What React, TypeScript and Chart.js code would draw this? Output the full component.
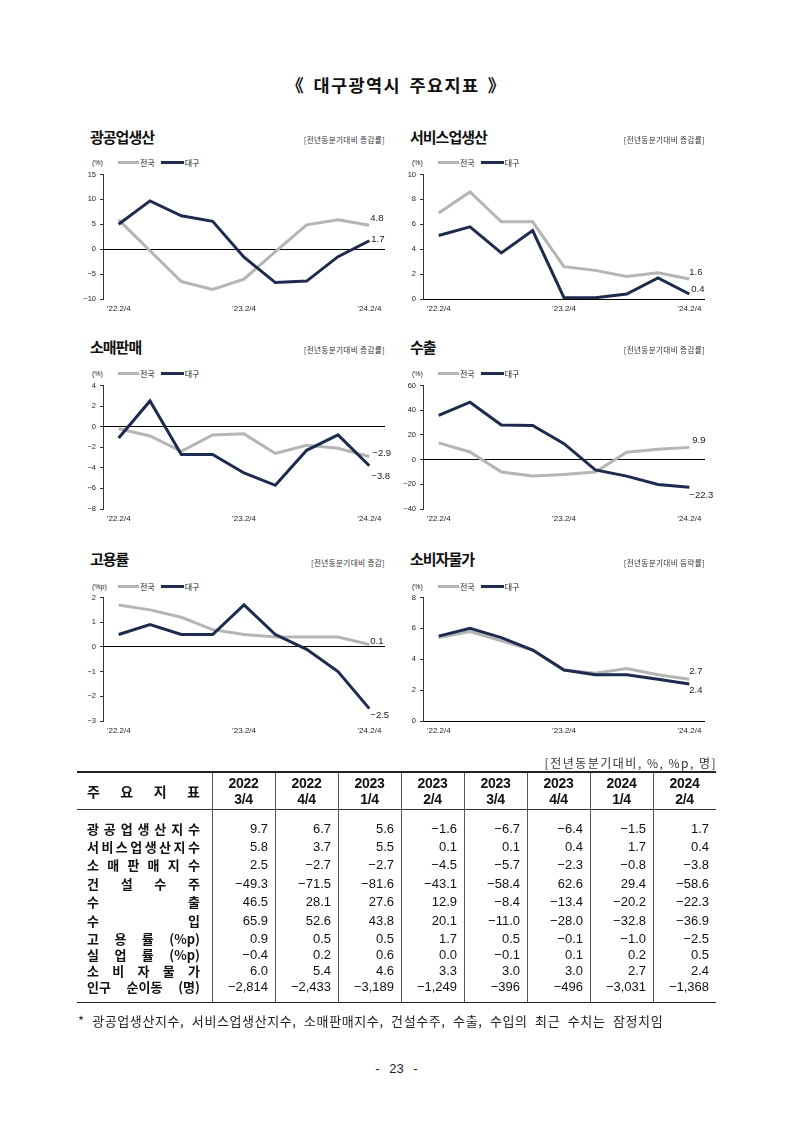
import React, { useEffect, useRef } from "react";
import { Chart, registerables } from "chart.js";
Chart.register(...registerables);

// ---------- chart data ----------
const quarters = ["’22.2/4", "’22.3/4", "’22.4/4", "’23.1/4", "’23.2/4", "’23.3/4", "’23.4/4", "’24.1/4", "’24.2/4"];
const shownTickIdx = [0, 4, 8];
const seriesNames = ["전국", "대구"];

const miningNation = [5.9, -0.3, -6.5, -8.1, -6.0, -0.5, 4.9, 5.9, 4.8];
const miningDaegu = [5.0, 9.7, 6.7, 5.6, -1.6, -6.7, -6.4, -1.5, 1.7];
const serviceNation = [6.9, 8.6, 6.2, 6.2, 2.6, 2.3, 1.8, 2.1, 1.6];
const serviceDaegu = [5.1, 5.8, 3.7, 5.5, 0.1, 0.1, 0.4, 1.7, 0.4];
const retailNation = [-0.2, -0.9, -2.4, -0.8, -0.7, -2.6, -1.8, -2.1, -2.9];
const retailDaegu = [-1.1, 2.5, -2.7, -2.7, -4.5, -5.7, -2.3, -0.8, -3.8];
const exportNation = [13.5, 6.2, -10.0, -13.2, -12.0, -10.0, 6.0, 8.3, 9.9];
const exportDaegu = [35.8, 46.5, 28.1, 27.6, 12.9, -8.4, -13.4, -20.2, -22.3];
const employNation = [1.7, 1.5, 1.2, 0.7, 0.5, 0.4, 0.4, 0.4, 0.1];
const employDaegu = [0.5, 0.9, 0.5, 0.5, 1.7, 0.5, -0.1, -1.0, -2.5];
const cpiNation = [5.4, 5.8, 5.2, 4.6, 3.3, 3.1, 3.4, 3.0, 2.7];
const cpiDaegu = [5.5, 6.0, 5.4, 4.6, 3.3, 3.0, 3.0, 2.7, 2.4];

// ---------- table data ----------
const tableCols = [["2022", "3/4"], ["2022", "4/4"], ["2023", "1/4"], ["2023", "2/4"], ["2023", "3/4"], ["2023", "4/4"], ["2024", "1/4"], ["2024", "2/4"]];
const tableRowLabels = ["광 공 업 생 산 지 수", "서 비 스 업 생 산 지 수", "소 매 판 매 지 수", "건 설 수 주", "수 출", "수 입", "고 용 률 (%p)", "실 업 률 (%p)", "소 비 자 물 가", "인구 순이동 (명)"];
const rowMining = [9.7, 6.7, 5.6, -1.6, -6.7, -6.4, -1.5, 1.7];
const rowService = [5.8, 3.7, 5.5, 0.1, 0.1, 0.4, 1.7, 0.4];
const rowRetail = [2.5, -2.7, -2.7, -4.5, -5.7, -2.3, -0.8, -3.8];
const rowConstruction = [-49.3, -71.5, -81.6, -43.1, -58.4, 62.6, 29.4, -58.6];
const rowExport = [46.5, 28.1, 27.6, 12.9, -8.4, -13.4, -20.2, -22.3];
const rowImport = [65.9, 52.6, 43.8, 20.1, -11.0, -28.0, -32.8, -36.9];
const rowEmploy = [0.9, 0.5, 0.5, 1.7, 0.5, -0.1, -1.0, -2.5];
const rowUnemploy = [-0.4, 0.2, 0.6, 0.0, -0.1, 0.1, 0.2, 0.5];
const rowCpi = [6.0, 5.4, 4.6, 3.3, 3.0, 3.0, 2.7, 2.4];
const rowMigration = [-2814, -2433, -3189, -1249, -396, -496, -3031, -1368];
const tableRows = [rowMining, rowService, rowRetail, rowConstruction, rowExport, rowImport, rowEmploy, rowUnemploy, rowCpi, rowMigration];

// ---------- styles / layout ----------
const GRAY = "#b5b5b5";
const NAVY = "#1d2b4f";
const KR = '"Noto Sans CJK KR", "Noto Sans", sans-serif';
const AR = '"Liberation Sans", Arial, sans-serif';

const colGeom = [
  { plotLeft: 103, plotRight: 385, titleLeft: 90 },
  { plotLeft: 423, plotRight: 705, titleLeft: 410 },
];
const rowGeom = [
  { titleY: 137, subY: 140, legendY: 162, plotTop: 174, plotBottom: 299 },
  { titleY: 347, subY: 350, legendY: 373, plotTop: 385, plotBottom: 509 },
  { titleY: 559, subY: 563, legendY: 586, plotTop: 597, plotBottom: 721 },
];

const panels = [
  { title: "광공업생산", sub: "[전년동분기대비 증감률]", unit: "(%)", nation: miningNation, daegu: miningDaegu, min: -10, max: 15, step: 5, col: 0, row: 0, off: [[1, -7], [2, -1]] },
  { title: "서비스업생산", sub: "[전년동분기대비 증감률]", unit: "(%)", nation: serviceNation, daegu: serviceDaegu, min: 0, max: 10, step: 2, col: 1, row: 0, off: [[0, -7], [2, -5]] },
  { title: "소매판매", sub: "[전년동분기대비 증감률]", unit: "(%)", nation: retailNation, daegu: retailDaegu, min: -8, max: 4, step: 2, col: 0, row: 1, off: [[3, -3], [2, 11]] },
  { title: "수출", sub: "[전년동분기대비 증감률]", unit: "(%)", nation: exportNation, daegu: exportDaegu, min: -40, max: 60, step: 20, col: 1, row: 1, off: [[3, -7], [0, 8]] },
  { title: "고용률", sub: "[전년동분기대비 증감]", unit: "(%p)", nation: employNation, daegu: employDaegu, min: -3, max: 2, step: 1, col: 0, row: 2, off: [[1, -3], [1, 7]] },
  { title: "소비자물가", sub: "[전년동분기대비 등락률]", unit: "(%)", nation: cpiNation, daegu: cpiDaegu, min: 0, max: 8, step: 2, col: 1, row: 2, off: [[0, -8], [0, 6]] },
];

const minus = (s: string) => s.replace(/-/g, "−");
const fmt1 = (v: number) => minus(v.toFixed(1));

const Y_W = 38;
const X_H = 18;
const PAD_T = 8;
const PAD_R = 16;

const lastLabelPlugin = {
  id: "lastLabel",
  afterDatasetsDraw(chart: any, _args: any, opts: any) {
    const ctx = chart.ctx;
    chart.data.datasets.forEach((ds: any, i: number) => {
      const meta = chart.getDatasetMeta(i);
      const pt = meta.data[meta.data.length - 1];
      const v = ds.data[ds.data.length - 1];
      const o = opts.offsets[i];
      ctx.save();
      ctx.font = `9.5px ${AR}`;
      ctx.fillStyle = "#222";
      ctx.textAlign = "left";
      ctx.textBaseline = "middle";
      ctx.fillText(fmt1(v), pt.x + o[0], pt.y + o[1]);
      ctx.restore();
    });
  },
};

function Panel({ p }: { p: any }) {
  const ref = useRef<HTMLCanvasElement>(null);
  const c = colGeom[p.col];
  const r = rowGeom[p.row];
  const plotW = c.plotRight - c.plotLeft;
  const plotH = r.plotBottom - r.plotTop;
  const w = plotW + Y_W + PAD_R;
  const h = plotH + PAD_T + X_H;
  const left = c.plotLeft - Y_W;
  const top = r.plotTop - PAD_T;

  useEffect(() => {
    const chart = new Chart(ref.current as HTMLCanvasElement, {
      type: "line",
      data: {
        labels: quarters,
        datasets: [
          { label: seriesNames[0], data: p.nation, borderColor: GRAY, backgroundColor: GRAY, borderWidth: 3, pointRadius: 0, tension: 0, order: 2 },
          { label: seriesNames[1], data: p.daegu, borderColor: NAVY, backgroundColor: NAVY, borderWidth: 3, pointRadius: 0, tension: 0, order: 1 },
        ],
      },
      options: {
        animation: false,
        responsive: false,
        maintainAspectRatio: false,
        layout: { autoPadding: false, padding: { left: 0, top: PAD_T, right: PAD_R, bottom: 0 } },
        plugins: {
          legend: { display: false },
          tooltip: { enabled: false },
          lastLabel: { offsets: p.off },
        } as any,
        scales: {
          x: {
            type: "category",
            offset: true,
            grid: { display: false, drawTicks: false },
            border: { display: false },
            afterFit: (s: any) => { s.height = X_H; },
            ticks: {
              autoSkip: false,
              maxRotation: 0,
              padding: 5,
              color: "#222",
              font: { family: AR, size: 8 },
              callback: (_v: any, i: number) => (shownTickIdx.includes(i) ? quarters[i] : ""),
            },
          },
          y: {
            min: p.min,
            max: p.max,
            afterFit: (s: any) => { s.width = Y_W; },
            border: { display: true, color: "#333", width: 1 },
            grid: {
              drawOnChartArea: true,
              drawTicks: true,
              tickLength: 3,
              tickColor: "#333",
              color: (ctx: any) => (ctx.tick && ctx.tick.value === 0 ? "#000" : "rgba(0,0,0,0)"),
              lineWidth: 1,
            },
            ticks: {
              stepSize: p.step,
              padding: 4,
              color: "#222",
              font: { family: AR, size: 7.5 },
              callback: (v: any) => minus(String(v)),
            },
          },
        },
      },
      plugins: [lastLabelPlugin as any],
    });
    return () => chart.destroy();
  }, []);

  const subRight = 793 - c.plotRight;
  return (
    <>
      <div style={{ position: "absolute", left: c.titleLeft, top: r.titleY - 11, height: 22, lineHeight: "22px", fontFamily: KR, fontWeight: 700, fontSize: 15, letterSpacing: -1, color: "#111", whiteSpace: "nowrap" }}>{p.title}</div>
      <div style={{ position: "absolute", right: subRight, top: r.subY - 5, height: 10, lineHeight: "10px", fontFamily: KR, fontSize: 7.6, letterSpacing: 0.35, color: "#333", whiteSpace: "nowrap" }}>{p.sub}</div>
      <div style={{ position: "absolute", left: c.titleLeft + 2, top: r.legendY - 6, height: 12, display: "flex", alignItems: "center", fontFamily: KR, color: "#222", whiteSpace: "nowrap" }}>
        <span style={{ fontFamily: AR, fontSize: 7, width: 26 }}>{p.unit}</span>
        <span style={{ display: "inline-block", width: 21, height: 3, background: GRAY }} />
        <span style={{ fontSize: 8, marginLeft: 1, marginRight: 6 }}>{seriesNames[0]}</span>
        <span style={{ display: "inline-block", width: 23, height: 3, background: NAVY }} />
        <span style={{ fontSize: 8, marginLeft: 1 }}>{seriesNames[1]}</span>
      </div>
      <canvas ref={ref} width={w} height={h} style={{ position: "absolute", left, top, width: w, height: h }} />
    </>
  );
}

const T_LEFT = 77;
const T_FIRST = 135;
const T_COL = 63;
const T_TOP = 771;
const T_HEAD_H = 36;
const BODY_PAD_T = 8.5;
const rowHeights = [19, 18.5, 18.5, 18.5, 18.5, 18.5, 17, 15.5, 15.5, 17];
const BODY_PAD_B = 8;

function fmtCell(v: number, ri: number) {
  if (ri === tableRows.length - 1) return minus(v.toLocaleString("en-US"));
  return fmt1(v);
}

function Table() {
  const bodyH = BODY_PAD_T + rowHeights.reduce((a, b) => a + b, 0) + BODY_PAD_B;
  const totalW = T_FIRST + T_COL * tableCols.length;
  const totalH = 2 + T_HEAD_H + 1 + bodyH;
  const vlines = [];
  for (let i = 0; i < tableCols.length; i++) vlines.push(T_FIRST + i * T_COL);
  return (
    <div style={{ position: "absolute", left: T_LEFT, top: T_TOP, width: totalW, height: totalH }}>
      <div style={{ position: "absolute", left: 0, top: 0, width: totalW, height: 2, background: "#222" }} />
      <div style={{ position: "absolute", left: 0, top: 2 + T_HEAD_H, width: totalW, height: 1, background: "#333" }} />
      <div style={{ position: "absolute", left: 0, top: totalH - 1.5, width: totalW, height: 1.5, background: "#222" }} />
      {vlines.map((x, i) => (
        <div key={i} style={{ position: "absolute", left: x, top: 2, width: 1, height: totalH - 3.5, background: "#555" }} />
      ))}
      {/* header */}
      <div style={{ position: "absolute", left: 10, top: 2, width: T_FIRST - 22, height: T_HEAD_H, display: "flex", justifyContent: "space-between", alignItems: "center", fontFamily: KR, fontWeight: 700, fontSize: 14, color: "#111" }}>
        {"주 요 지 표".split(" ").map((t, i) => <span key={i}>{t}</span>)}
      </div>
      {tableCols.map((hc, i) => (
        <div key={i} style={{ position: "absolute", left: T_FIRST + i * T_COL, top: 4, width: T_COL, height: T_HEAD_H, textAlign: "center", fontFamily: AR, fontWeight: 700, fontSize: 14, lineHeight: "16px", letterSpacing: -0.3, color: "#111" }}>
          <div>{hc[0]}</div>
          <div>{hc[1]}</div>
        </div>
      ))}
      {/* body */}
      {tableRows.map((row, ri) => {
        const top = 3 + T_HEAD_H + BODY_PAD_T + rowHeights.slice(0, ri).reduce((a, b) => a + b, 0);
        const hh = rowHeights[ri];
        return (
          <React.Fragment key={ri}>
            <div style={{ position: "absolute", left: 10, top, width: T_FIRST - 22, height: hh, display: "flex", justifyContent: "space-between", alignItems: "center", fontFamily: KR, fontWeight: 700, fontSize: 13, color: "#111", whiteSpace: "nowrap" }}>
              {tableRowLabels[ri].split(" ").map((t, i) => <span key={i} style={{ lineHeight: `${hh}px` }}>{t}</span>)}
            </div>
            {row.map((v, ci) => (
              <div key={ci} style={{ position: "absolute", left: T_FIRST + ci * T_COL, top, width: T_COL - 7, height: hh, lineHeight: `${hh}px`, textAlign: "right", fontFamily: AR, fontSize: 13, color: "#111", whiteSpace: "nowrap" }}>
                {fmtCell(v, ri)}
              </div>
            ))}
          </React.Fragment>
        );
      })}
    </div>
  );
}

export default function App() {
  return (
    <div style={{ position: "absolute", left: 0, top: 0, width: 793, height: 1121, background: "#fff", fontFamily: KR }}>
      <div style={{ position: "absolute", left: 0, width: 793, top: 73, height: 24, lineHeight: "24px", textAlign: "center", fontFamily: KR, fontWeight: 700, fontSize: 17.5, color: "#111", letterSpacing: 1.4, wordSpacing: 3 }}>
        《 대구광역시 주요지표 》
      </div>
      {panels.map((p, i) => <Panel key={i} p={p} />)}
      <div style={{ position: "absolute", right: 793 - 717, top: 754, height: 18, lineHeight: "18px", fontFamily: KR, fontSize: 12, letterSpacing: 1.5, color: "#333", whiteSpace: "nowrap" }}>
        [전년동분기대비, %, %p, 명]
      </div>
      <Table />
      <div style={{ position: "absolute", left: 78, top: 1012, height: 18, lineHeight: "18px", fontFamily: KR, fontSize: 13, letterSpacing: 0.6, color: "#222", whiteSpace: "nowrap", wordSpacing: 4 }}>
        * 광공업생산지수, 서비스업생산지수, 소매판매지수, 건설수주, 수출, 수입의 최근 수치는 잠정치임
      </div>
      <div style={{ position: "absolute", left: 0, width: 793, top: 1060, height: 18, lineHeight: "18px", textAlign: "center", fontFamily: AR, fontSize: 13, color: "#222", wordSpacing: 6 }}>
        - 23 -
      </div>
    </div>
  );
}
